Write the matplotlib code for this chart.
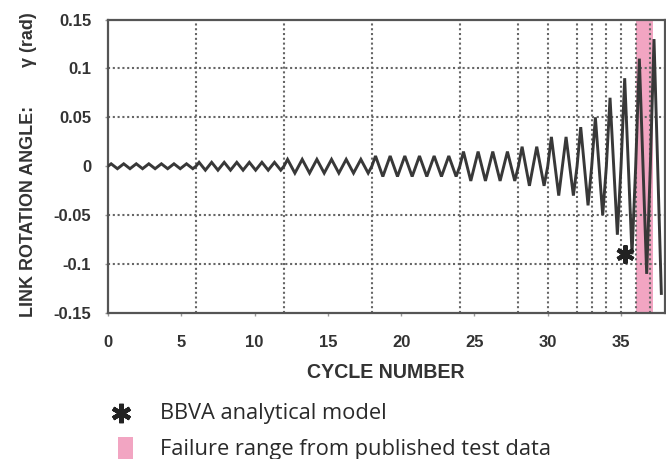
import matplotlib
matplotlib.use("Agg")
import matplotlib.pyplot as plt
from matplotlib.lines import Line2D
from matplotlib.patches import Rectangle
from matplotlib.font_manager import FontProperties

# ---- data ----
block_edges = [0, 6, 12, 18, 24, 28, 30, 32, 33, 34, 35, 36, 37, 38]
block_cycles = [7, 7, 6, 6, 4, 2, 2, 1, 1, 1, 1, 1, 1]
block_amps = [0.0025, 0.004, 0.007, 0.0105, 0.015, 0.02, 0.03, 0.04, 0.05, 0.07, 0.09, 0.11, 0.13]
model_point = (35.3, -0.09)          # BBVA analytical model
failure_range = (36.0, 37.2)         # failure range from published test data
x_ticks = [0, 5, 10, 15, 20, 25, 30, 35]
y_ticks = [-0.15, -0.1, -0.05, 0, 0.05, 0.1, 0.15]
y_tick_labels = ["-0.15", "-0.1", "-0.05", "0", "0.05", "0.1", "0.15"]
grid_x = [6, 12, 18, 24, 28, 30, 32, 33, 34, 35, 36, 37]
grid_y = [-0.1, -0.05, 0.05, 0.1]
legend_labels = ["BBVA analytical model", "Failure range from published test data"]
y_label_parts = ["LINK ROTATION ANGLE:", "\u03b3 (rad)"]
x_label = "CYCLE NUMBER"

# build the cyclic history from block amplitudes
xs, ys = [0.0], [0.0]
for e0, e1, n, a in zip(block_edges[:-1], block_edges[1:], block_cycles, block_amps):
    w = (e1 - e0) / n
    for i in range(n):
        s = e0 + i * w
        xs += [s + 0.25 * w, s + 0.75 * w, s + w]
        ys += [a, -a, 0.0]
xs, ys = xs[:-1], ys[:-1]

W, H = 666, 459
fig = plt.figure(figsize=(W / 100, H / 100), dpi=100)
fig.patch.set_facecolor("white")
ax = fig.add_axes([108 / W, 1 - 313 / H, (665 - 108) / W, (313 - 19.5) / H])

dot = (0, (1, 1.3))
gcol = "#666666"
for gx in grid_x:
    ax.axvline(gx, color=gcol, lw=1.5, ls=dot, zorder=1)
for gy in grid_y:
    ax.axhline(gy, color=gcol, lw=1.5, ls=dot, zorder=1)

ax.axvspan(failure_range[0], failure_range[1], color="#f2a5c2", zorder=0.5, lw=0)
ax.plot(xs, ys, color="#383838", lw=2.1, zorder=3, solid_joinstyle="miter")
ax.plot([model_point[0]], [model_point[1]], ls="none", marker=(6, 2, 0),
        ms=13, mew=3.0, color="#222222", zorder=4)

ax.set_xlim(0, 38)
ax.set_ylim(-0.15, 0.15)
ax.set_xticks(x_ticks)
ax.set_yticks(y_ticks)
ax.set_yticklabels(y_tick_labels)

tfp = FontProperties(family="Liberation Sans", weight="bold", size=12)
for lab in ax.get_xticklabels() + ax.get_yticklabels():
    lab.set_fontproperties(tfp)
    lab.set_color("#333333")
ax.tick_params(axis="x", direction="out", length=2.5, width=1, color="#999999", pad=13.5)
ax.tick_params(axis="y", direction="out", length=2.5, width=1, color="#999999", pad=9.5)

for sp in ax.spines.values():
    sp.set_color("#555555")
    sp.set_linewidth(1.6)

r = fig.canvas.get_renderer()

ya = fig.text(29 / W, 1 - 317 / H, y_label_parts[0], rotation=90, ha="center", va="bottom",
              family="Liberation Sans", weight="bold", size=12, color="#333333")
yb = fig.text(29 / W, 1 - 12 / H, y_label_parts[1], rotation=90, ha="center", va="top",
              family="Liberation Sans", weight="bold", size=12, color="#333333")
sz = 12 * 210 / ya.get_window_extent(r).height
ya.set_size(sz)
yb.set_size(sz)

xl = fig.text(386 / W, 1 - 373 / H, x_label, ha="center", va="center",
              family="Liberation Sans", weight="bold", size=13.8, color="#333333")
xl.set_size(13.8 * 157 / xl.get_window_extent(r).width)

# legend
fig.add_artist(Line2D([121 / W], [1 - 413 / H], transform=fig.transFigure, ls="none",
                      marker=(6, 2, 0), ms=14, mew=3.2, color="#222222"))
fig.add_artist(Rectangle((118 / W, 1 - 460 / H), 15 / W, 23 / H, transform=fig.transFigure,
                         facecolor="#f2a5c2", edgecolor="none"))
t1 = fig.text(160 / W, 1 - 413 / H, legend_labels[0], ha="left", va="center",
              family="Open Sans", size=15, color="#2a2a2a")
t2 = fig.text(160 / W, 1 - 449 / H, legend_labels[1], ha="left", va="center",
              family="Open Sans", size=15, color="#2a2a2a")
s = 15 * 227 / t1.get_window_extent(r).width
t1.set_size(s)
t2.set_size(s)

fig.savefig("out.png", dpi=100)
